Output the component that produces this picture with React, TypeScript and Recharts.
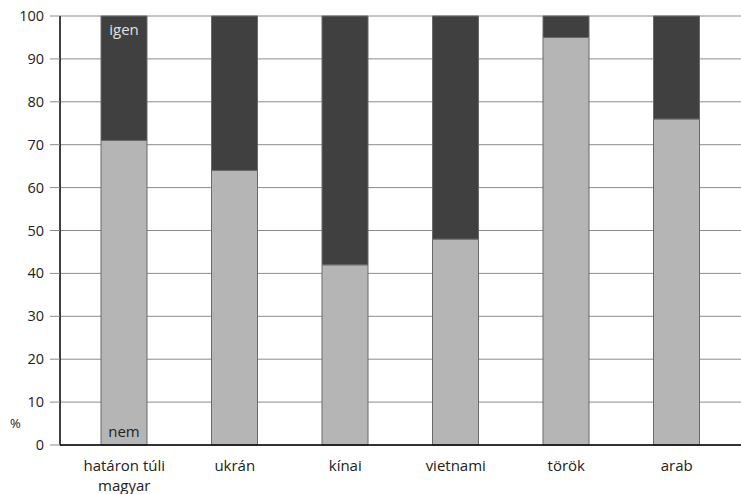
import React from "react";
import { BarChart, Bar, XAxis, YAxis, CartesianGrid, LabelList } from "recharts";

const categories = ["határon túli\nmagyar", "ukrán", "kínai", "vietnami", "török", "arab"];
const nemValues = [71, 64, 42, 48, 95, 76];
const yTicks = [0, 10, 20, 30, 40, 50, 60, 70, 80, 90, 100];

const data = categories.map((c, i) => ({
  name: c,
  nem: nemValues[i],
  igen: 100 - nemValues[i],
}));

const FONT = "'Open Sans', sans-serif";
const TEXT = "#222";

const XTick = (props: any) => {
  const { x, y, payload } = props;
  const lines = String(payload.value).split("\n");
  return (
    <g transform={`translate(${x},${y})`}>
      {lines.map((l, i) => (
        <text key={i} x={0} y={18 + i * 20} textAnchor="middle" fill={TEXT} fontSize={15} fontFamily={FONT}>
          {l}
        </text>
      ))}
    </g>
  );
};

const YTick = (props: any) => {
  const { x, y, payload } = props;
  return (
    <text x={x - 4} y={y} dy={5} textAnchor="end" fill={TEXT} fontSize={14.5} fontFamily={FONT}>
      {payload.value}
    </text>
  );
};

const renderIgen = (props: any) => {
  const { x, y, width, index } = props;
  if (index !== 0) return null;
  return (
    <text x={x + width / 2} y={y + 19} textAnchor="middle" fill="#e0e0e0" fontSize={15} fontFamily={FONT}>
      igen
    </text>
  );
};

const renderNem = (props: any) => {
  const { x, y, width, height, index } = props;
  if (index !== 0) return null;
  return (
    <text x={x + width / 2} y={y + height - 8} textAnchor="middle" fill={TEXT} fontSize={15} fontFamily={FONT}>
      nem
    </text>
  );
};

export default function App() {
  return (
    <div style={{ position: "absolute", left: 0, top: 0, width: 741, height: 494, background: "#fff" }}>
      <BarChart
        width={741}
        height={494}
        data={data}
        margin={{ top: 16, right: 0, bottom: 0, left: 0 }}
        barCategoryGap={0}
      >
        <CartesianGrid vertical={false} stroke="#8c8c8c" strokeWidth={1} />
        <XAxis
          dataKey="name"
          tick={<XTick />}
          tickLine={false}
          axisLine={{ stroke: "#000", strokeWidth: 1.5 }}
          height={49}
          interval={0}
          padding={{ left: 9, right: 9 }}
        />
        <YAxis
          domain={[0, 100]}
          ticks={yTicks}
          tick={<YTick />}
          tickSize={10}
          tickLine={{ stroke: "#8c8c8c" }}
          axisLine={{ stroke: "#000", strokeWidth: 1.5 }}
          width={60}
          interval={0}
          label={{ value: "%", position: "insideBottomLeft", offset: 0, dx: 10, dy: -17, fill: TEXT, fontSize: 13, fontFamily: FONT }}
        />
        <Bar dataKey="nem" stackId="a" fill="#b5b5b5" stroke="#6a6a6a" strokeWidth={1} barSize={46} isAnimationActive={false}>
          <LabelList dataKey="nem" content={renderNem} />
        </Bar>
        <Bar dataKey="igen" stackId="a" fill="#404040" stroke="#6a6a6a" strokeWidth={1} barSize={46} isAnimationActive={false}>
          <LabelList dataKey="igen" content={renderIgen} />
        </Bar>
      </BarChart>
    </div>
  );
}
